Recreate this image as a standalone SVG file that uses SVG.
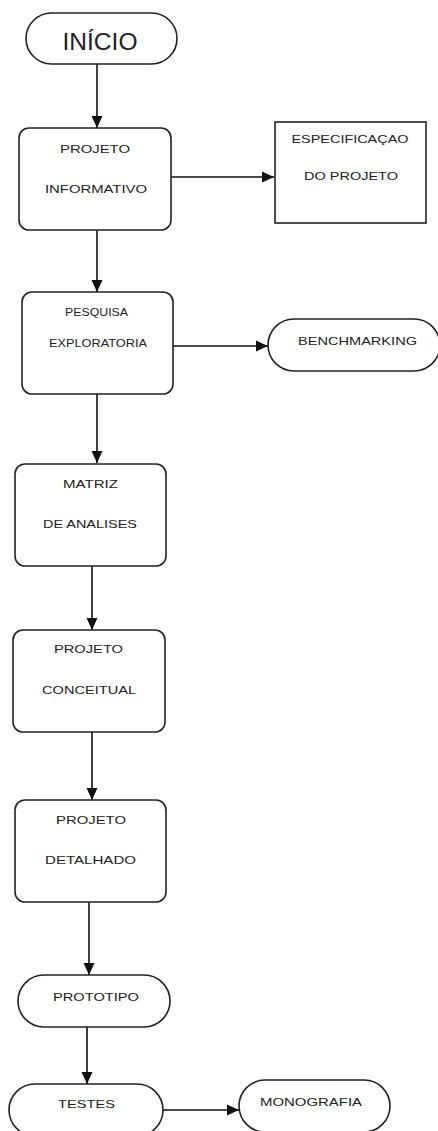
<svg xmlns="http://www.w3.org/2000/svg" width="438" height="1131" viewBox="0 0 438 1131">
<style>
.n{fill:#fff;stroke:#222;stroke-width:1.6}
.t{font-family:"Liberation Sans",Arial,sans-serif;font-size:11.5px;fill:#222;text-anchor:middle}
.big{font-size:23px}
.c{stroke:#111;stroke-width:1.6;fill:none;marker-end:url(#ah)}
</style>
<defs>
<marker id="ah" markerUnits="userSpaceOnUse" markerWidth="12" markerHeight="12" viewBox="0 0 12 12" refX="12" refY="6" orient="auto">
<path d="M0,0.5 L12,6 L0,11.5 Z" fill="#111"/>
</marker>
</defs>
<rect width="438" height="1131" fill="#fff"/>
<g id="connectors">
<path class="c" d="M97,64 V128"/>
<path class="c" d="M171,177 H274"/>
<path class="c" d="M97,230 V292"/>
<path class="c" d="M173,346 H268"/>
<path class="c" d="M97,394 V463"/>
<path class="c" d="M92,566 V630"/>
<path class="c" d="M92,732 V800"/>
<path class="c" d="M89,902 V975"/>
<path class="c" d="M87,1027 V1084"/>
<path class="c" d="M163,1110 H239"/>
</g>
<g id="inicio">
<rect class="n" x="26" y="13" width="151" height="51" rx="25.5"/>
<text class="t big" x="100" y="50" textLength="75" lengthAdjust="spacingAndGlyphs">INÍCIO</text>
</g>
<g id="projeto-informativo">
<rect class="n" x="19" y="128" width="152" height="102" rx="10"/>
<text class="t" x="95" y="153" textLength="70" lengthAdjust="spacingAndGlyphs">PROJETO</text>
<text class="t" x="96" y="193" textLength="102" lengthAdjust="spacingAndGlyphs">INFORMATIVO</text>
</g>
<g id="especificacao">
<rect class="n" x="275" y="122" width="151" height="101"/>
<text class="t" x="350" y="143" textLength="117" lengthAdjust="spacingAndGlyphs">ESPECIFICAÇAO</text>
<text class="t" x="351" y="180" textLength="94" lengthAdjust="spacingAndGlyphs">DO PROJETO</text>
</g>
<g id="pesquisa">
<rect class="n" x="22" y="292" width="151" height="102" rx="10"/>
<text class="t" x="96.5" y="316" textLength="63" lengthAdjust="spacingAndGlyphs">PESQUISA</text>
<text class="t" x="98" y="347" textLength="98" lengthAdjust="spacingAndGlyphs">EXPLORATORIA</text>
</g>
<g id="benchmarking">
<rect class="n" x="268" y="319" width="172" height="52" rx="26"/>
<text class="t" x="357.5" y="345" textLength="119" lengthAdjust="spacingAndGlyphs">BENCHMARKING</text>
</g>
<g id="matriz">
<rect class="n" x="15" y="464" width="151" height="102" rx="10"/>
<text class="t" x="90.5" y="488" textLength="55" lengthAdjust="spacingAndGlyphs">MATRIZ</text>
<text class="t" x="90" y="528" textLength="94" lengthAdjust="spacingAndGlyphs">DE ANALISES</text>
</g>
<g id="conceitual">
<rect class="n" x="13" y="630" width="152" height="102" rx="10"/>
<text class="t" x="88.5" y="653" textLength="69" lengthAdjust="spacingAndGlyphs">PROJETO</text>
<text class="t" x="89" y="694" textLength="94" lengthAdjust="spacingAndGlyphs">CONCEITUAL</text>
</g>
<g id="detalhado">
<rect class="n" x="15" y="800" width="151" height="102" rx="10"/>
<text class="t" x="91" y="824" textLength="70" lengthAdjust="spacingAndGlyphs">PROJETO</text>
<text class="t" x="90.5" y="864" textLength="91" lengthAdjust="spacingAndGlyphs">DETALHADO</text>
</g>
<g id="prototipo">
<rect class="n" x="18" y="975" width="152" height="52" rx="26"/>
<text class="t" x="96" y="1001" textLength="86" lengthAdjust="spacingAndGlyphs">PROTOTIPO</text>
</g>
<g id="testes">
<rect class="n" x="9" y="1084" width="154" height="52" rx="26"/>
<text class="t" x="86.5" y="1108" textLength="57" lengthAdjust="spacingAndGlyphs">TESTES</text>
</g>
<g id="monografia">
<rect class="n" x="239" y="1080" width="151" height="52" rx="26"/>
<text class="t" x="311" y="1106" textLength="102" lengthAdjust="spacingAndGlyphs">MONOGRAFIA</text>
</g>
</svg>
